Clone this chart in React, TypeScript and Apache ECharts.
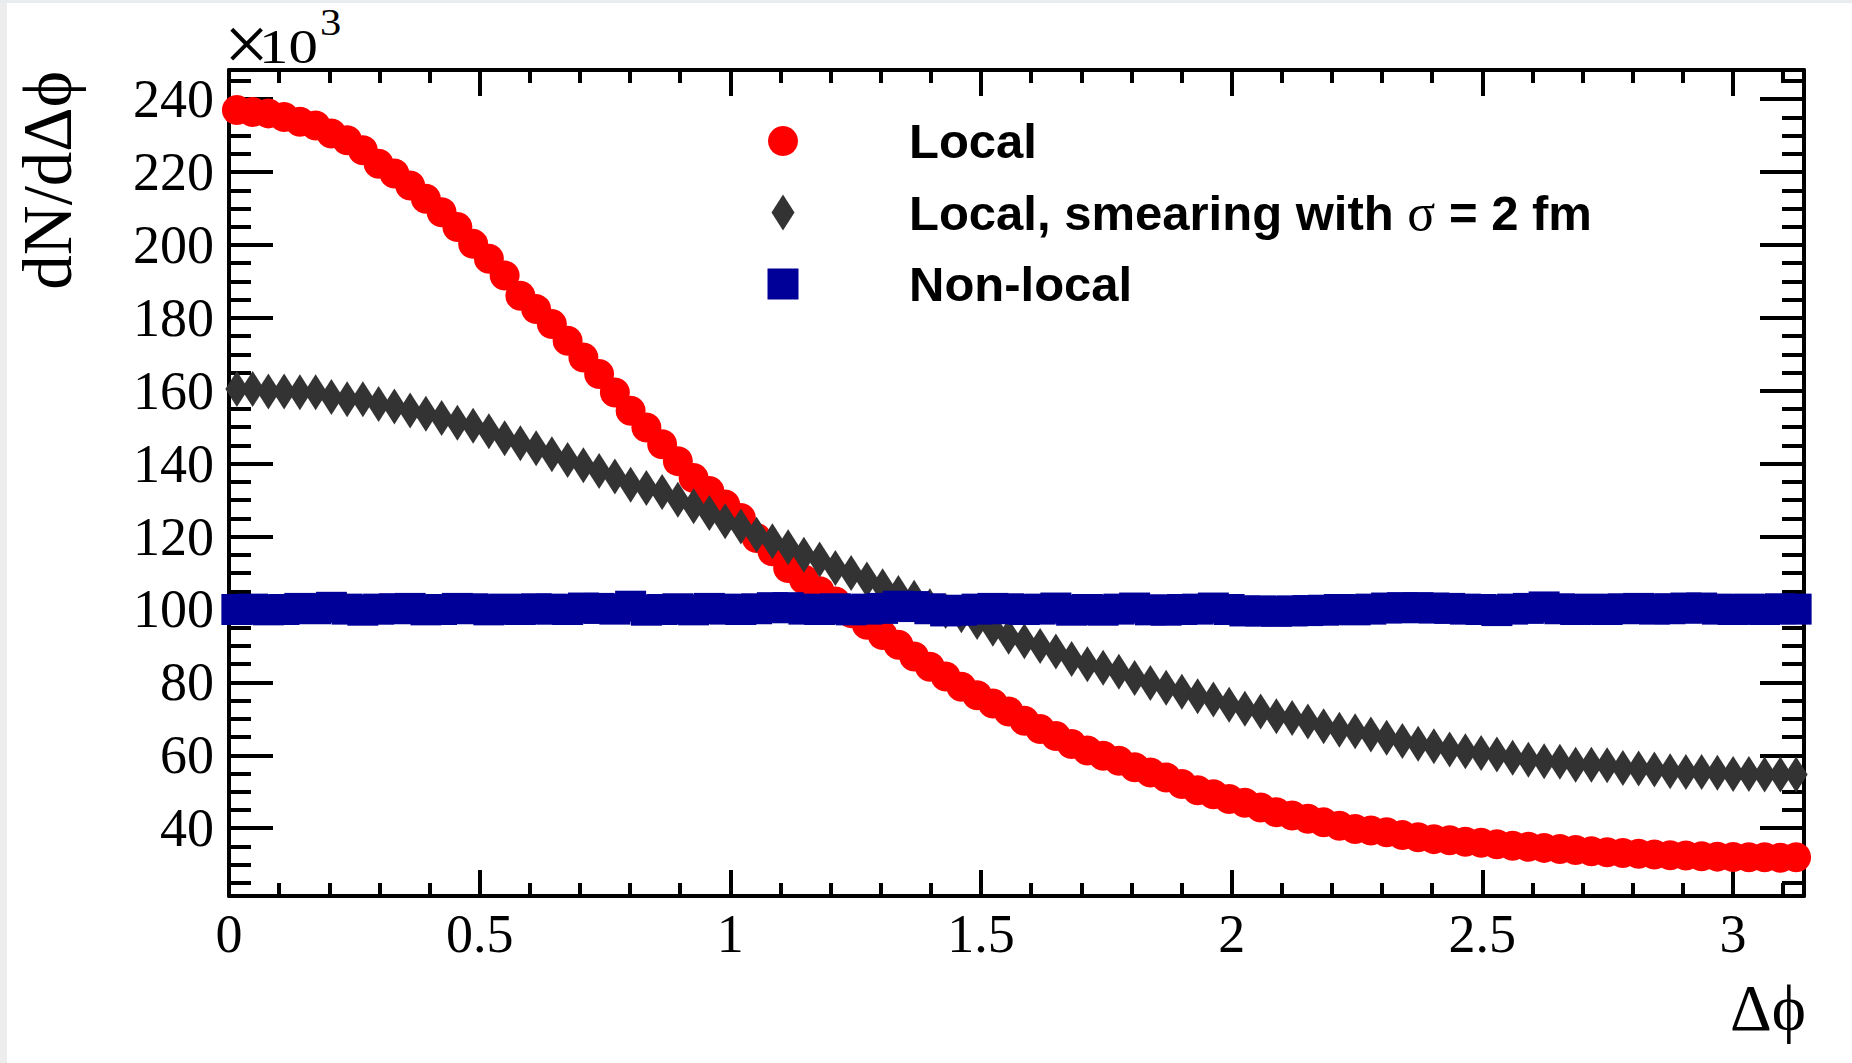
import React, { useEffect, useRef } from "react";
import * as echarts from "echarts";

// ---- data (100 bins in delta-phi from 0 to pi), values in units of 10^3 ----
const N_BINS = 100;
const X_MAX = Math.PI;

const localValues = [
  237.0, 236.5, 236.1, 235.1, 233.8, 232.8, 230.6, 228.7, 226.0, 222.3,
  219.6, 216.3, 212.7, 209.0, 204.9, 200.3, 196.2, 191.6, 186.1, 182.4,
  178.3, 173.7, 169.1, 164.6, 159.5, 154.5, 149.9, 145.3, 140.7, 136.1,
  132.5, 128.8, 125.1, 119.6, 116.0, 111.4, 108.2, 105.0, 102.2, 99.0,
  95.8, 93.0, 90.3, 87.1, 84.3, 81.6, 78.8, 76.5, 74.2, 72.0,
  69.5, 67.2, 65.3, 63.1, 61.3, 59.9, 58.5, 56.7, 55.3, 53.9,
  52.1, 50.4, 49.3, 48.0, 47.0, 45.7, 44.4, 43.5, 42.6, 41.6,
  40.7, 39.8, 39.4, 38.9, 38.1, 37.5, 37.0, 36.7, 36.3, 36.0,
  35.6, 35.2, 34.9, 34.6, 34.3, 34.0, 33.7, 33.4, 33.2, 33.0,
  32.8, 32.6, 32.5, 32.3, 32.2, 32.1, 32.0, 32.0, 31.9, 32.0,
];

const smearedValues = [
  160.5, 160.5, 159.8, 159.8, 159.6, 159.6, 158.3, 157.7, 157.7, 156.4,
  155.7, 154.6, 153.7, 152.5, 151.2, 150.4, 148.9, 147.0, 145.6, 144.2,
  142.6, 141.0, 139.6, 138.0, 136.5, 134.2, 133.3, 132.2, 130.1, 128.3,
  126.5, 124.2, 122.8, 120.5, 118.7, 117.1, 115.0, 113.7, 111.4, 110.0,
  108.2, 106.4, 104.5, 103.2, 100.9, 99.6, 98.4, 96.6, 94.7, 92.5,
  91.3, 90.0, 88.5, 86.4, 85.0, 84.0, 82.9, 81.2, 79.8, 78.5,
  77.4, 76.2, 75.3, 73.9, 72.8, 72.0, 70.7, 70.2, 69.3, 68.0,
  67.0, 66.6, 65.7, 64.8, 63.9, 63.2, 62.5, 61.6, 61.1, 60.6,
  60.2, 59.3, 58.8, 58.4, 58.2, 57.4, 57.4, 57.3, 56.5, 56.4,
  56.1, 55.6, 55.4, 55.4, 55.2, 54.9, 54.9, 54.7, 54.7, 54.7,
];

const nonLocalValues = [
  100.0, 100.1, 99.9, 100.0, 100.3, 100.2, 100.6, 100.1, 99.8, 100.1,
  100.2, 100.3, 99.9, 100.0, 100.3, 100.2, 99.9, 100.1, 100.0, 100.2,
  100.1, 100.0, 100.4, 100.3, 100.1, 100.9, 99.8, 100.0, 100.2, 99.9,
  100.3, 100.1, 100.0, 100.2, 100.5, 100.5, 100.1, 100.0, 100.2, 99.9,
  100.1, 100.3, 100.9, 100.8, 100.2, 99.6, 99.8, 100.1, 100.3, 100.2,
  100.0, 100.1, 100.4, 99.8, 100.0, 99.8, 100.1, 100.4, 99.9, 99.8,
  100.0, 100.1, 100.4, 100.0, 99.6, 99.6, 99.5, 99.6, 99.7, 99.8,
  100.0, 99.9, 100.1, 100.4, 100.5, 100.5, 100.4, 100.3, 100.1, 100.0,
  99.7, 100.1, 100.3, 100.7, 100.2, 100.0, 100.1, 100.0, 100.2, 100.3,
  100.1, 100.2, 100.4, 100.4, 100.1, 100.0, 100.1, 100.0, 100.2, 100.1,
];

const seriesNames = ["Local", "Local, smearing with σ = 2 fm", "Non-local"];

const xMajorTicks = [0, 0.5, 1, 1.5, 2, 2.5, 3];
const xMinorTicks = [
  0.1, 0.2, 0.3, 0.4, 0.6, 0.7, 0.8, 0.9, 1.1, 1.2, 1.3, 1.4, 1.6, 1.7, 1.8,
  1.9, 2.1, 2.2, 2.3, 2.4, 2.6, 2.7, 2.8, 2.9, 3.1,
];
const yMajorTicks = [40, 60, 80, 100, 120, 140, 160, 180, 200, 220, 240];
const yMinorTicks = [
  25, 30, 35, 45, 50, 55, 65, 70, 75, 85, 90, 95, 105, 110, 115, 125, 130, 135,
  145, 150, 155, 165, 170, 175, 185, 190, 195, 205, 210, 215, 225, 230, 235, 245,
];
const Y_MIN = 21.4;
const Y_MAX = 248;

const binCenters = localValues.map((_, i) => ((i + 0.5) * X_MAX) / N_BINS);

const SERIF = "Liberation Serif";
const SANS = "Liberation Sans";

function makeXAxis(position: string, ticks: number[], len: number, showLine: boolean, showLabels: boolean) {
  return {
    type: "value",
    position,
    min: 0,
    max: X_MAX,
    axisLine: { show: showLine, onZero: false, lineStyle: { color: "#000", width: 4 } },
    axisTick: { show: true, inside: true, length: len, customValues: ticks, lineStyle: { color: "#000", width: 4 } },
    axisLabel: showLabels
      ? {
          show: true,
          customValues: ticks,
          margin: 11,
          color: "#000",
          fontFamily: SERIF,
          fontSize: 54,
          formatter: (v: number) => String(v),
        }
      : { show: false },
    splitLine: { show: false },
  };
}

function makeYAxis(position: string, ticks: number[], len: number, showLine: boolean, showLabels: boolean) {
  return {
    type: "value",
    position,
    min: Y_MIN,
    max: Y_MAX,
    axisLine: { show: showLine, onZero: false, lineStyle: { color: "#000", width: 4 } },
    axisTick: { show: true, inside: true, length: len, customValues: ticks, lineStyle: { color: "#000", width: 4 } },
    axisLabel: showLabels
      ? {
          show: true,
          customValues: ticks,
          margin: 15,
          color: "#000",
          fontFamily: SERIF,
          fontSize: 54,
          formatter: (v: number) => String(v),
        }
      : { show: false },
    splitLine: { show: false },
  };
}

export default function App() {
  const ref = useRef<HTMLDivElement>(null);

  useEffect(() => {
    if (!ref.current) return;
    const chart = echarts.init(ref.current, undefined, { renderer: "svg" });

    const legendX = 783;
    const textX = 909;
    const rows = [141, 212.5, 284];
    const legendFont = 49;

    chart.setOption({
      animation: false,
      backgroundColor: "#ffffff",
      grid: { left: 229, right: 48, top: 70, bottom: 167, containLabel: false },
      xAxis: [
        makeXAxis("bottom", xMajorTicks, 26, true, true),
        makeXAxis("bottom", xMinorTicks, 13, false, false),
        makeXAxis("top", xMajorTicks, 26, true, false),
        makeXAxis("top", xMinorTicks, 13, false, false),
      ],
      yAxis: [
        makeYAxis("left", yMajorTicks, 44, true, true),
        makeYAxis("left", yMinorTicks, 22, false, false),
        makeYAxis("right", yMajorTicks, 44, true, false),
        makeYAxis("right", yMinorTicks, 22, false, false),
      ],
      series: [
        {
          name: seriesNames[0],
          type: "scatter",
          clip: false,
          symbol: "circle",
          symbolSize: 30,
          itemStyle: { color: "#ff0000", opacity: 1 },
          data: localValues.map((v, i) => [binCenters[i], v]),
          z: 2,
        },
        {
          name: seriesNames[1],
          type: "scatter",
          clip: false,
          symbol: "diamond",
          symbolSize: [23, 36],
          itemStyle: { color: "#333333", opacity: 1 },
          data: smearedValues.map((v, i) => [binCenters[i], v]),
          z: 3,
        },
        {
          name: seriesNames[2],
          type: "scatter",
          clip: false,
          symbol: "rect",
          symbolSize: 31,
          itemStyle: { color: "#000099", opacity: 1 },
          data: nonLocalValues.map((v, i) => [binCenters[i], v]),
          z: 4,
        },
      ],
      graphic: [
        { type: "rect", shape: { x: 0, y: 0, width: 7, height: 1063 }, style: { fill: "#ededed" }, z: 0 },
        { type: "rect", shape: { x: 0, y: 0, width: 1852, height: 3 }, style: { fill: "#e9ecef" }, z: 0 },
        {
          type: "text",
          x: 224,
          y: 44,
          style: { text: "×", fontFamily: SERIF, fontSize: 80, fill: "#000", align: "left", textAlign: "left", verticalAlign: "middle", textVerticalAlign: "middle" },
        },
        {
          type: "text",
          x: 259,
          y: 47,
          scaleX: 1.2,
          style: { text: "10", fontFamily: SERIF, fontSize: 49, fill: "#000", align: "left", textAlign: "left", verticalAlign: "middle", textVerticalAlign: "middle" },
        },
        {
          type: "text",
          x: 320,
          y: 22,
          scaleX: 1.15,
          style: { text: "3", fontFamily: SERIF, fontSize: 37, fill: "#000", align: "left", textAlign: "left", verticalAlign: "middle", textVerticalAlign: "middle" },
        },
        {
          type: "text",
          x: 48,
          y: 71,
          rotation: Math.PI / 2,
          style: { text: "dN/dΔϕ", fontFamily: SERIF, fontSize: 69, fill: "#000", align: "right", textAlign: "right", verticalAlign: "middle", textVerticalAlign: "middle" },
        },
        {
          type: "text",
          x: 1806,
          y: 1008,
          style: { text: "Δϕ", fontFamily: SERIF, fontSize: 65, fill: "#000", align: "right", textAlign: "right", verticalAlign: "middle", textVerticalAlign: "middle" },
        },
        { type: "circle", shape: { cx: legendX, cy: rows[0], r: 15 }, style: { fill: "#ff0000" } },
        {
          type: "polygon",
          shape: { points: [[legendX, rows[1] - 18], [legendX + 11.5, rows[1]], [legendX, rows[1] + 18], [legendX - 11.5, rows[1]]] },
          style: { fill: "#333333" },
        },
        { type: "rect", shape: { x: legendX - 15.5, y: rows[2] - 15.5, width: 31, height: 31 }, style: { fill: "#000099" } },
        {
          type: "text",
          x: textX,
          y: rows[0],
          style: { text: seriesNames[0], fontFamily: SANS, fontWeight: "bold", fontSize: legendFont, fill: "#000", align: "left", textAlign: "left", verticalAlign: "middle", textVerticalAlign: "middle" },
        },
        {
          type: "text",
          x: textX,
          y: rows[1],
          style: {
            text: "Local, smearing with {s|σ} = 2 fm",
            fontFamily: SANS,
            fontWeight: "bold",
            fontSize: legendFont,
            fill: "#000",
            align: "left",
            textAlign: "left",
            verticalAlign: "middle",
            textVerticalAlign: "middle",
            rich: { s: { fontFamily: SERIF, fontWeight: "normal", fontSize: 52, fill: "#000" } },
          },
        },
        {
          type: "text",
          x: textX,
          y: rows[2],
          style: { text: seriesNames[2], fontFamily: SANS, fontWeight: "bold", fontSize: legendFont, fill: "#000", align: "left", textAlign: "left", verticalAlign: "middle", textVerticalAlign: "middle" },
        },
      ],
    });

    return () => chart.dispose();
  }, []);

  return (
    <div
      ref={ref}
      style={{ position: "fixed", left: 0, top: 0, width: "1852px", height: "1063px", background: "#fff" }}
    />
  );
}
